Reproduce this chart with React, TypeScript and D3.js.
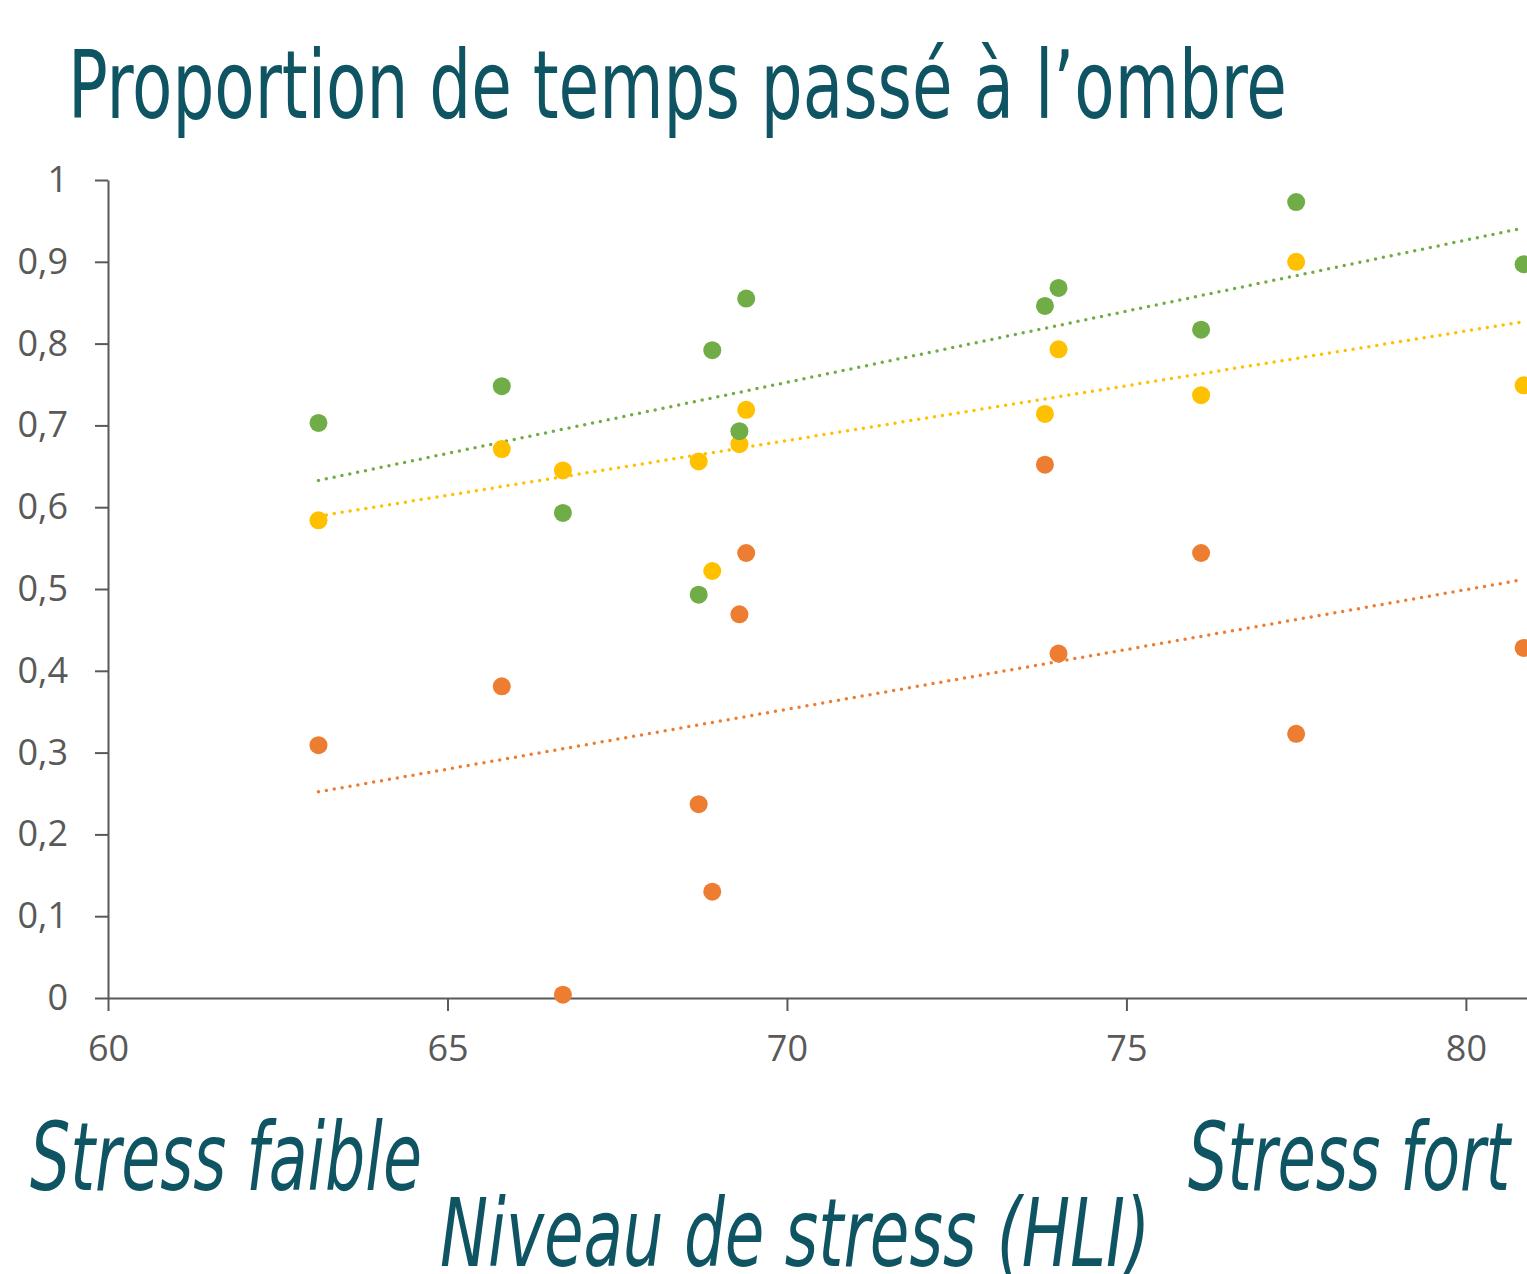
import React, { useEffect, useRef } from 'react';
import * as d3 from 'd3';

// HLI values (x) shared by the three series
const hli = [63.1, 65.8, 66.7, 68.7, 68.9, 69.3, 69.4, 73.8, 74.0, 76.1, 77.5, 80.85];

const greenValues = [0.703, 0.748, 0.593, 0.493, 0.792, 0.693, 0.855, 0.846, 0.868, 0.817, 0.973, 0.897];
const yellowValues = [0.584, 0.671, 0.645, 0.656, 0.522, 0.677, 0.719, 0.714, 0.793, 0.737, 0.9, 0.749];
const orangeValues = [0.309, 0.381, 0.004, 0.237, 0.13, 0.469, 0.544, 0.652, 0.421, 0.544, 0.323, 0.428];

const xTicks = [60, 65, 70, 75, 80];
const yTicks = [0, 0.1, 0.2, 0.3, 0.4, 0.5, 0.6, 0.7, 0.8, 0.9, 1];

const series = [
  { name: 'orange', color: '#ED7D31', values: orangeValues },
  { name: 'yellow', color: '#FFC000', values: yellowValues },
  { name: 'green', color: '#70AD47', values: greenValues },
];

const title = 'Proportion de temps passé à l’ombre';
const teal = '#0F5462';
const axisGrey = '#595959';

const W = 1527;
const H = 1274;

// least squares fit
function fit(xs: number[], ys: number[]) {
  const mx = d3.mean(xs)!;
  const my = d3.mean(ys)!;
  let num = 0, den = 0;
  xs.forEach((x, i) => { num += (x - mx) * (ys[i] - my); den += (x - mx) * (x - mx); });
  const slope = num / den;
  return (x: number) => my + slope * (x - mx);
}

const ScatterChart: React.FC = () => {
  const svgRef = useRef<SVGSVGElement>(null);

  useEffect(() => {
    if (!svgRef.current) return;
    const svg = d3.select(svgRef.current);
    svg.selectAll('*').remove();

    const x = d3.scaleLinear().domain([60, 80.9]).range([108, W]);
    const y = d3.scaleLinear().domain([0, 1]).range([998, 180]);
    const fr = d3.formatLocale({ decimal: ',', thousands: ' ', grouping: [3], currency: ['', '€'] });
    const fmt = fr.format('~g');

    // title
    svg.append('text')
      .attr('x', 68).attr('y', 118)
      .attr('textLength', 1219).attr('lengthAdjust', 'spacingAndGlyphs')
      .attr('font-family', '"Liberation Sans Narrow", "DejaVu Sans Condensed", "Open Sans", sans-serif')
      .attr('font-stretch', 'condensed')
      .attr('font-size', 94)
      .attr('fill', teal)
      .text(title);

    // x axis
    const gx = svg.append('g')
      .attr('transform', `translate(0,${y(0)})`)
      .call(d3.axisBottom(x).tickValues(xTicks).tickSize(13).tickSizeOuter(0).tickPadding(24));
    gx.select('.domain').attr('stroke', axisGrey).attr('stroke-width', 2);
    gx.selectAll('.tick line').attr('stroke', axisGrey).attr('stroke-width', 2);
    gx.selectAll('.tick text')
      .attr('fill', axisGrey)
      .attr('font-family', '"Open Sans", sans-serif')
      .attr('font-size', 36);

    // y axis
    const gy = svg.append('g')
      .attr('transform', `translate(${x(60)},0)`)
      .call(d3.axisLeft(y).tickValues(yTicks).tickFormat(d => fmt(d as number)).tickSize(13).tickSizeOuter(0).tickPadding(27));
    gy.select('.domain').attr('stroke', axisGrey).attr('stroke-width', 2);
    gy.selectAll('.tick line').attr('stroke', axisGrey).attr('stroke-width', 2);
    gy.selectAll('.tick text')
      .attr('fill', axisGrey)
      .attr('font-family', '"Open Sans", sans-serif')
      .attr('font-size', 36);

    const xMin = d3.min(hli)!;
    const xMax = d3.max(hli)!;

    // trend lines
    series.forEach(s => {
      const f = fit(hli, s.values);
      svg.append('line')
        .attr('x1', x(xMin)).attr('y1', y(f(xMin)))
        .attr('x2', x(xMax)).attr('y2', y(f(xMax)))
        .attr('stroke', s.color)
        .attr('stroke-width', 3.5)
        .attr('stroke-linecap', 'round')
        .attr('stroke-dasharray', '0 8');
    });

    // points
    series.forEach(s => {
      svg.append('g')
        .selectAll('circle')
        .data(s.values)
        .enter()
        .append('circle')
        .attr('cx', (_, i) => x(hli[i]))
        .attr('cy', d => y(d))
        .attr('r', 9)
        .attr('fill', s.color);
    });

    // annotations
    const italic = (t: string, px: number, py: number, anchor: string, len: number) =>
      svg.append('text')
        .attr('x', px).attr('y', py)
        .attr('text-anchor', anchor)
        .attr('textLength', len).attr('lengthAdjust', 'spacingAndGlyphs')
        .attr('font-family', '"Liberation Sans Narrow", "DejaVu Sans Condensed", "Open Sans", sans-serif')
        .attr('font-stretch', 'condensed')
        .attr('font-style', 'italic')
        .attr('font-size', 94)
        .attr('fill', teal)
        .text(t);

    italic('Stress faible', 30, 1190, 'start', 392);
    italic('Stress fort', 1188, 1190, 'start', 322);
    italic('Niveau de stress (HLI)', 440, 1266, 'start', 710);
  }, []);

  return (
    <svg ref={svgRef} width={W} height={H}
      style={{ position: 'absolute', left: 0, top: 0, background: '#fff', overflow: 'hidden' }} />
  );
};

export default function App() {
  return <ScatterChart />;
}
